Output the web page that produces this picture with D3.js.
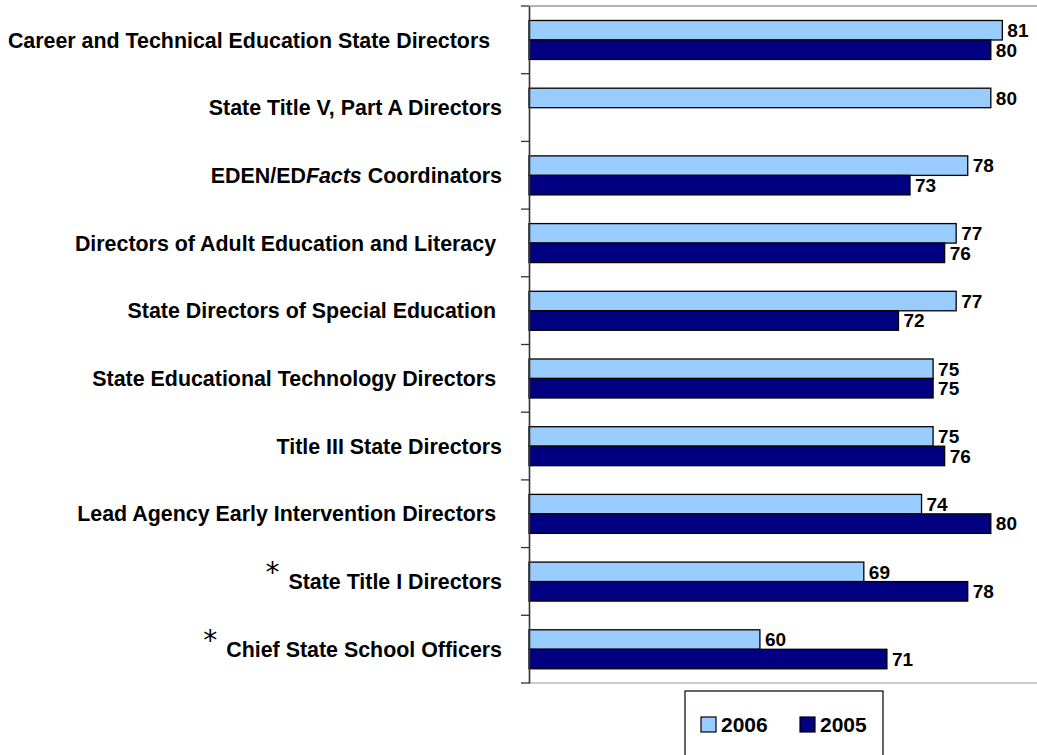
<!DOCTYPE html>
<html>
<head>
<meta charset="utf-8">
<script src="https://cdn.jsdelivr.net/npm/d3@7"></script>
<style>
  html, body { margin: 0; padding: 0; background: #fff; }
  svg { display: block; font-family: "Liberation Sans", Arial, sans-serif; }
  .cat { white-space: pre; }
</style>
</head>
<body>
<svg id="chart" width="1037" height="755"></svg>
<script>
// Survey respondent groups, top to bottom (trailing spaces kept as in the source labels)
const categories = [
  "Career and Technical Education State Directors  ",
  "State Title V, Part A Directors",
  "EDEN/EDFacts Coordinators",
  "Directors of Adult Education and Literacy ",
  "State Directors of Special Education ",
  "State Educational Technology Directors ",
  "Title III State Directors",
  "Lead Agency Early Intervention Directors ",
  "State Title I Directors",
  "Chief State School Officers"
];
// groups flagged with an asterisk
const flagged = ["State Title I Directors", "Chief State School Officers"];

const seriesNames = ["2006", "2005"];
const values2006 = [81, 80, 78, 77, 77, 75, 75, 74, 69, 60];
const values2005 = [80, null, 73, 76, 72, 75, 76, 80, 78, 71];
const seriesColors = ["#99CCFF", "#000080"];

const svg = d3.select("#chart");
const plot = { left: 529, right: 1037, top: 6, bottom: 683 };

const x = d3.scaleLinear().domain([40, 84]).range([plot.left, plot.right]);
const y = d3.scaleBand().domain(categories).range([plot.top, plot.bottom]);
const ySub = d3.scaleBand().domain(seriesNames)
  .range([y.bandwidth() * 0.214, y.bandwidth() * 0.79]);

const seriesValues = { "2006": values2006, "2005": values2005 };

// plot area frame lines (top and bottom)
svg.append("line")
  .attr("x1", plot.left).attr("x2", plot.right)
  .attr("y1", plot.top).attr("y2", plot.top)
  .attr("stroke", "#999").attr("stroke-width", 1.5);
svg.append("line")
  .attr("x1", plot.left).attr("x2", plot.right)
  .attr("y1", plot.bottom).attr("y2", plot.bottom)
  .attr("stroke", "#bbb").attr("stroke-width", 1.5);

// bars with value labels
const groups = svg.append("g").selectAll("g")
  .data(categories)
  .join("g")
  .attr("transform", d => `translate(0,${y(d)})`);

seriesNames.forEach((s, si) => {
  groups.each(function (cat, i) {
    const v = seriesValues[s][i];
    if (v == null) return;
    const g = d3.select(this);
    g.append("rect")
      .attr("x", x(40))
      .attr("y", ySub(s))
      .attr("width", x(v) - x(40))
      .attr("height", ySub.bandwidth())
      .attr("fill", seriesColors[si])
      .attr("stroke", "#000")
      .attr("stroke-width", 1.3);
    g.append("text")
      .attr("x", x(v) + 5)
      .attr("y", ySub(s) + ySub.bandwidth() / 2)
      .attr("dy", "0.36em")
      .attr("font-size", 19)
      .attr("font-weight", "bold")
      .attr("fill", "#000")
      .text(v);
  });
});

// category axis line
const axis = d3.axisLeft(y).tickValues([]).tickSizeOuter(0);
const axisG = svg.append("g")
  .attr("transform", `translate(${plot.left},0)`)
  .call(axis);
axisG.select(".domain").attr("stroke", "#333").attr("stroke-width", 1.6);

// tick marks on band boundaries
const boundaries = categories.map(c => y(c)).concat([plot.bottom]);
svg.append("g").selectAll("line")
  .data(boundaries)
  .join("line")
  .attr("x1", plot.left - 8).attr("x2", plot.left)
  .attr("y1", d => d).attr("y2", d => d)
  .attr("stroke", "#333").attr("stroke-width", 1.3);

// category labels
const labelX = plot.left - 27;
const labels = svg.append("g").selectAll("text")
  .data(categories)
  .join("text")
  .attr("class", "cat")
  .attr("x", labelX)
  .attr("y", d => y(d) + y.bandwidth() / 2)
  .attr("dy", "0.36em")
  .attr("text-anchor", "end")
  .attr("font-size", 21.4)
  .attr("font-weight", "bold")
  .attr("fill", "#000");

labels.each(function (d) {
  const t = d3.select(this);
  if (d.includes("EDFacts")) {
    t.append("tspan").text("EDEN/ED");
    t.append("tspan").attr("font-style", "italic").text("Facts");
    t.append("tspan").text(" Coordinators");
  } else {
    t.text(d);
  }
});

// asterisks beside flagged groups
labels.filter(d => flagged.includes(d.trim())).each(function (d) {
  const box = this.getBBox();
  svg.append("text")
    .attr("x", box.x - 16)
    .attr("y", y(d) + y.bandwidth() / 2 + 1)
    .attr("text-anchor", "middle")
    .attr("font-family", "DejaVu Sans")
    .attr("font-size", 28)
    .attr("fill", "#000")
    .text("*");
});

// legend
const legend = svg.append("g").attr("transform", "translate(685,691)");
legend.append("rect")
  .attr("x", 0).attr("y", 0)
  .attr("width", 198).attr("height", 80)
  .attr("fill", "#fff").attr("stroke", "#000").attr("stroke-width", 1.2);
const legX = d3.scalePoint().domain(seriesNames).range([16, 115]);
const items = legend.selectAll("g.item")
  .data(seriesNames)
  .join("g")
  .attr("class", "item")
  .attr("transform", d => `translate(${legX(d)},26)`);
items.append("rect")
  .attr("width", 15).attr("height", 15)
  .attr("fill", (d, i) => seriesColors[i])
  .attr("stroke", "#000").attr("stroke-width", 1.2);
items.append("text")
  .attr("x", 20).attr("y", 7.5)
  .attr("dy", "0.36em")
  .attr("font-size", 21)
  .attr("font-weight", "bold")
  .text(d => d);
</script>
</body>
</html>
